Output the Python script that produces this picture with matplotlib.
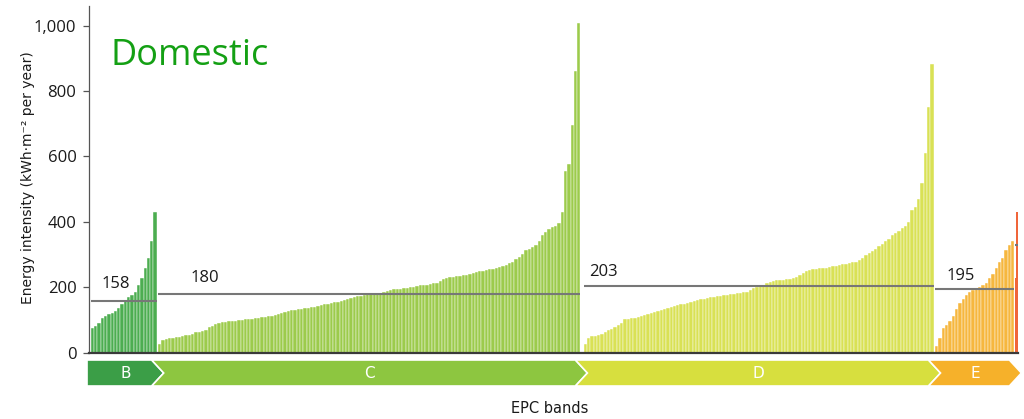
import matplotlib
matplotlib.use('Agg')
import matplotlib.pyplot as plt
from matplotlib.patches import Polygon

# ---------------- data ----------------
bands = ['B', 'C', 'D', 'E']
b_values = [76, 81, 89, 105, 112, 118, 122, 128, 136, 148, 160, 170, 176, 186,
            205, 228, 257, 290, 340, 429]
c_values = [25, 38, 42, 43, 45, 46, 48, 50, 53, 55,
            58, 62, 64, 67, 70, 77, 82, 87, 90, 92,
            93, 95, 96, 97, 98, 100, 101, 102, 104, 105,
            106, 108, 110, 111, 113, 115, 118, 122, 125, 127,
            129, 130, 132, 134, 135, 137, 138, 140, 142, 145,
            147, 149, 151, 153, 156, 159, 162, 165, 168, 171,
            172, 174, 176, 178, 180, 181, 182, 183, 185, 188,
            191, 193, 194, 195, 197, 198, 199, 201, 203, 205,
            206, 208, 210, 212, 214, 220, 225, 228, 231, 232,
            233, 235, 236, 238, 240, 243, 246, 248, 250, 252,
            254, 256, 259, 262, 264, 268, 273, 278, 286, 293,
            302, 313, 318, 322, 330, 342, 358, 368, 378, 383,
            387, 395, 430, 555, 578, 696, 860, 1008]
d_values = [25, 45, 50, 51, 53, 58, 64, 69, 72, 78,
            83, 90, 101, 103, 105, 107, 109, 112, 115, 118,
            121, 124, 127, 130, 132, 135, 138, 141, 144, 147,
            149, 152, 155, 158, 161, 163, 165, 167, 169, 171,
            173, 174, 176, 177, 178, 180, 181, 183, 184, 186,
            192, 196, 199, 203, 208, 212, 215, 219, 221, 222,
            223, 224, 225, 227, 230, 237, 243, 248, 252, 255,
            256, 257, 258, 260, 262, 264, 266, 268, 270, 272,
            274, 276, 278, 282, 290, 298, 305, 312, 318, 325,
            333, 340, 348, 358, 366, 372, 382, 388, 400, 436,
            446, 471, 517, 610, 752, 884]
e_values = [20, 45, 75, 85, 95, 112, 133, 150, 165, 176, 184, 190, 196, 200,
            207, 213, 228, 240, 258, 276, 290, 313, 328, 342]
f_values = [227, 430]
band_values = [b_values, c_values, d_values, e_values]
medians = [158, 180, 203, 195]
f_median = 329
ytick_values = [0, 200, 400, 600, 800, 1000]
ytick_labels = ['0', '200', '400', '600', '800', '1,000']

# ---------------- style ----------------
bar_colors = ['#4cad50', '#9ccb4b', '#d9e155', '#f6b73e']
arrow_colors = ['#3b9e47', '#8dc640', '#d7df3e', '#f6b12a']
f_color = '#f0653a'
median_color = '#777777'
gaps = [0.4, 1.0, 0.5, 0.15]          # gap after each band (bar units)
label_offsets = [(3.4, 13), (10, 12), (1.7, 10), (3.5, 9)]  # (x units, pixels)

num_font = ['Open Sans', 'DejaVu Sans']
narrow_font = ['Liberation Sans Narrow', 'DejaVu Sans']

W, H = 1024, 419
fig = plt.figure(figsize=(W / 100, H / 100), dpi=100)
ax_left, ax_right = 89, 1018
base_y, top_y = 352.5, 6
ax = fig.add_axes([ax_left / W, (H - base_y) / H, (ax_right - ax_left) / W,
                   (base_y - top_y) / H])

# ---------------- bars ----------------
starts, ends = [], []
pos = 0.0
for i, vals in enumerate(band_values):
    xs = [pos + k for k in range(len(vals))]
    ax.bar(xs, vals, width=1.0, align='edge', color=bar_colors[i],
           edgecolor='white', linewidth=0.3, zorder=2)
    starts.append(pos)
    ends.append(pos + len(vals))
    pos = pos + len(vals) + gaps[i]

# F band (very few buildings)
f_start = pos
fw = 0.45
ax.bar([f_start + k * fw for k in range(len(f_values))], f_values, width=fw,
       align='edge', color=f_color, linewidth=0, zorder=2)
ax.plot([f_start, f_start + fw * len(f_values)], [f_median, f_median],
        color=median_color, lw=1.5, zorder=3, solid_capstyle='butt')

# ---------------- medians ----------------
for i, m in enumerate(medians):
    ax.plot([starts[i], ends[i]], [m, m], color=median_color, lw=1.5,
            zorder=3, solid_capstyle='butt')
    dx, dy = label_offsets[i]
    ax.annotate(str(m), xy=(starts[i] + dx, m), xytext=(0, dy),
                textcoords='offset pixels', ha='left', va='baseline',
                fontsize=12, family=num_font, color='#1a1a1a')

# ---------------- axes ----------------
unit_px = 3.3
xmin = -(90.7 - ax_left) / unit_px
xmax = xmin + (ax_right - ax_left) / unit_px
ax.set_xlim(xmin, xmax)
ax.set_ylim(0, (base_y - top_y) / 0.3269)
ax.set_yticks(ytick_values)
ax.set_yticklabels(ytick_labels, fontsize=12, family=num_font, color='#1a1a1a')
ax.set_xticks([])
for s in ['top', 'right']:
    ax.spines[s].set_visible(False)
ax.spines['left'].set_color('#555555')
ax.spines['left'].set_linewidth(0.9)
ax.spines['bottom'].set_color('#3a3a3a')
ax.spines['bottom'].set_linewidth(1.6)
ax.spines['bottom'].set_zorder(4)
ax.tick_params(axis='y', direction='out', length=4, width=0.9,
               color='#555555', pad=5)

# ---------------- band arrows ----------------
ax2 = fig.add_axes([ax_left / W, (H - 386) / H, (ax_right - ax_left) / W, 26 / H])
ax2.set_xlim(xmin, xmax)
ax2.set_ylim(0, 1)
ax2.axis('off')
d = 12 / unit_px
prev_right = None
for i, b in enumerate(bands):
    right = ends[i] - 5 / unit_px
    tip = right + d
    if prev_right is None:
        left = starts[i] - 3.7 / unit_px
        verts = [(left, 0), (right, 0), (tip, 0.5), (right, 1), (left, 1)]
    else:
        left = prev_right
        verts = [(left, 0), (right, 0), (tip, 0.5), (right, 1), (left, 1),
                 (left + d, 0.5)]
    poly = Polygon(verts, closed=True, facecolor=arrow_colors[i],
                   edgecolor='white', linewidth=1.2, clip_on=False)
    ax2.add_patch(poly)
    ax2.text((left + tip) / 2, 0.5, b, color='white', ha='center',
             va='center', fontsize=11, family=narrow_font)
    prev_right = right

# ---------------- texts ----------------
fig.text(110 / W, (H - 65) / H, 'Domestic', color='#14a014', fontsize=26,
         family=num_font, va='baseline', ha='left')
fig.text(28.5 / W, (H - 178) / H, 'Energy intensity (kWh·m⁻² per year)',
         rotation=90, ha='center', va='center', fontsize=10,
         family=narrow_font, color='#1a1a1a')
fig.text(550 / W, (H - 408) / H, 'EPC bands', ha='center', va='center',
         fontsize=10.5, family=narrow_font, color='#1a1a1a')

fig.savefig('out.png', dpi=100)
